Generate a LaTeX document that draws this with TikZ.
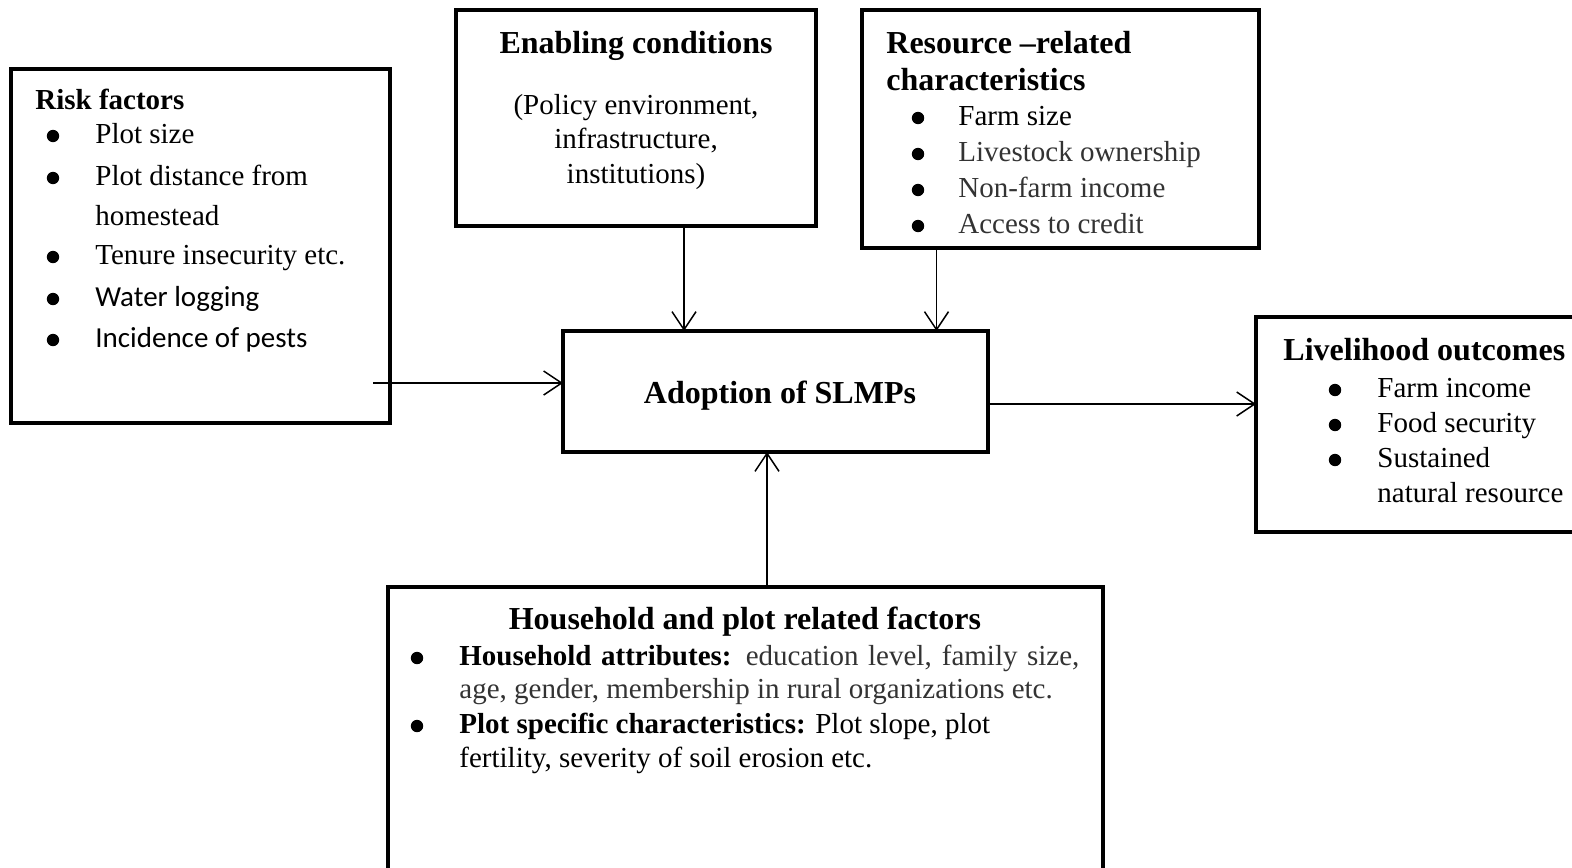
\documentclass[tikz,border=0pt]{standalone}
\usepackage{fontspec}
\setmainfont{Liberation Serif}
\newfontfamily\calibri{Carlito}
\usetikzlibrary{arrows.meta}
\tikzset{
  box/.style={draw, line width=2pt, inner sep=0pt, outer sep=0pt},
  txt/.style={inner sep=0pt, font=\fontsize{14.5}{17}\selectfont},
  head/.style={inner sep=0pt, font=\fontsize{16}{19}\selectfont\bfseries},
  dot/.style={circle, fill, inner sep=0pt, minimum size=6.2pt},
  arr/.style={line width=0.75pt, -{Straight Barb[length=9pt,width=12pt]}}
}
\begin{document}
\begin{tikzpicture}[x=0.5pt,y=-0.5pt]
	\useasboundingbox (0,0) rectangle (1572,867);
	\clip (0,0) rectangle (1572,867);
	\node[box, minimum width=189.5pt, minimum height=177pt] (risk) at (200.5,246) {};
	\node[box, minimum width=180pt, minimum height=108pt] (enab) at (636,118) {};
	\node[box, minimum width=198.5pt, minimum height=119pt] (res) at (1060.5,129) {};
	\node[box, minimum width=212.5pt, minimum height=60.5pt] (adopt) at (775.5,391.5) {};
	\node[box, minimum width=172pt, minimum height=107.5pt] (liv) at (1428,424.5) {};
	\node[box, minimum width=357.5pt, minimum height=156.5pt] (house) at (745.5,743.5) {};
	% risk factors
	\node[txt, anchor=base west, font=\fontsize{14.5}{17}\selectfont\bfseries] (rhead) at (35,109) {Risk factors};
	\foreach \y in {143,185,264,306,347}
		\node[dot] (rb\y) at (53,\y-7) {};
	\node[txt, anchor=base west] (r1) at (95,143) {Plot size};
	\node[txt, anchor=base west] (r2) at (95,185) {Plot distance from};
	\node[txt, anchor=base west] (r3) at (95,225) {homestead};
	\node[txt, anchor=base west] (r4) at (95,264) {Tenure insecurity etc.};
	\node[txt, anchor=base west] (r5) at (95,306) {\calibri Water logging};
	\node[txt, anchor=base west] (r6) at (95,347) {\calibri Incidence of pests};
	% enabling conditions
	\node[head, anchor=base] (ehead) at (636,53) {Enabling conditions};
	\node[txt, anchor=base] (e1) at (636,114) {(Policy environment,};
	\node[txt, anchor=base] (e2) at (636,148) {infrastructure,};
	\node[txt, anchor=base] (e3) at (636,183) {institutions)};
	% resource related
	\node[head, anchor=base west] (shead) at (886,53) {Resource –related};
	\node[head, anchor=base west] (shead2) at (886,90) {characteristics};
	\foreach \y in {125,161,197,233}
		\node[dot] (sb\y) at (918,\y-7) {};
	\node[txt, anchor=base west] (s1) at (958,125) {Farm size};
	\node[txt, anchor=base west, text=black!80] (s2) at (958,161) {Livestock ownership};
	\node[txt, anchor=base west, text=black!80] (s3) at (958,197) {Non-farm income};
	\node[txt, anchor=base west, text=black!80] (s4) at (958,233) {Access to credit};
	% adoption
	\node[head, anchor=base] (atext) at (780,403) {Adoption of SLMPs};
	% livelihood outcomes
	\node[head, anchor=base west] (lhead) at (1283,360) {Livelihood outcomes};
	\foreach \y in {397,432,467}
		\node[dot] (lb\y) at (1335,\y-7) {};
	\node[txt, anchor=base west] (l1) at (1377,397) {Farm income};
	\node[txt, anchor=base west] (l2) at (1377,432) {Food security};
	\node[txt, anchor=base west] (l3) at (1377,467) {Sustained};
	\node[txt, anchor=base west] (l4) at (1377,502) {natural resource};
	% household and plot
	\node[head, anchor=base] (hhead) at (745,629) {Household and plot related factors};
	\foreach \y in {665,733}
		\node[dot] (hb\y) at (417,\y-7) {};
	\node[txt, anchor=base west] (h1) at (459,665) {\makebox[310pt][s]{\textbf{Household attributes:} \textcolor{black!80}{education level, family size,}}};
	\node[txt, anchor=base west, text=black!80] (h2) at (459,698) {age, gender, membership in rural organizations etc.};
	\node[txt, anchor=base west] (h3) at (459,733) {\textbf{Plot specific characteristics:} Plot slope, plot};
	\node[txt, anchor=base west] (h4) at (459,767) {fertility, severity of soil erosion etc.};
	% arrows
	\coordinate (rs) at (373,383);
	\draw[arr] (rs) -- (rs -| adopt.west);
	\coordinate (es) at ([xshift=24pt]enab.south);
	\draw[arr] (es) -- (es |- adopt.north);
	\coordinate (ss) at ([xshift=-62pt]res.south);
	\draw[arr] (ss) -- (ss |- adopt.north);
	\coordinate (as) at ([yshift=-6.25pt]adopt.east);
	\draw[arr] (as) -- (as -| liv.west);
	\coordinate (hs) at ([xshift=10.75pt]house.north);
	\draw[arr] (hs) -- (hs |- adopt.south);
\end{tikzpicture}
\end{document}
